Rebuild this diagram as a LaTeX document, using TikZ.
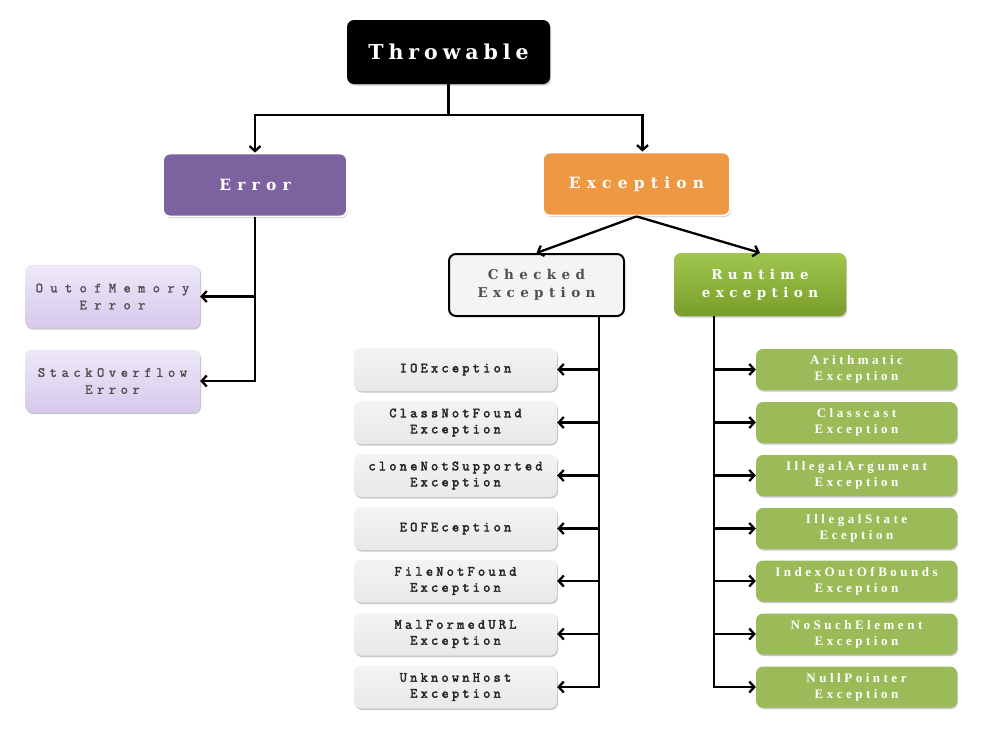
\documentclass[tikz,border=0pt]{standalone}
\usepackage{fontspec}
\usetikzlibrary{arrows.meta,shadows,calc}
\newfontfamily\ttlA[LetterSpace=24]{DejaVu Serif}
\newfontfamily\ttlB[LetterSpace=40]{DejaVu Serif}
\newfontfamily\monoA[LetterSpace=23,FakeBold=2.8]{Latin Modern Mono}
\newfontfamily\monoB[LetterSpace=53,FakeBold=1.8]{Latin Modern Mono}
\newfontfamily\monoC[LetterSpace=33,FakeBold=1.8]{Latin Modern Mono}
\newfontfamily\grn[LetterSpace=27]{Liberation Serif}
\definecolor{errpurple}{HTML}{7D62A0}
\definecolor{excorange}{HTML}{EE9843}
\definecolor{lpTop}{HTML}{EEE8F8}
\definecolor{lpBot}{HTML}{D6C9ED}
\definecolor{gTop}{HTML}{F4F4F4}
\definecolor{gBot}{HTML}{E8E8E8}
\definecolor{rtTop}{HTML}{A0C64E}
\definecolor{rtBot}{HTML}{789E2A}
\definecolor{leaf}{HTML}{9BBB59}
\definecolor{txtgrey}{HTML}{505050}
\tikzset{
  x=1pt, y=-1pt,
  base/.style={rounded corners=7pt, align=center, inner sep=0pt},
  shad/.style={drop shadow={shadow xshift=1pt, shadow yshift=-1.5pt, opacity=0.22, fill=black}},
  topbox/.style={base, fill=black, text=white, minimum width=203pt, minimum height=64pt,
    font=\ttlA\bfseries\fontsize{20.5}{24}\selectfont, shad},
  midbox/.style={base, draw=white, line width=1.8pt, text=white, minimum height=63pt,
    font=\ttlB\bfseries\fontsize{15.5}{18}\selectfont, shad},
  errleaf/.style={base, top color=lpTop, bottom color=lpBot, text=txtgrey, minimum width=175pt,
    minimum height=63pt, font=\monoB\fontsize{14}{17}\selectfont, shad},
  chkbox/.style={base, fill=gTop, draw=black, line width=2pt, text=txtgrey, minimum width=175pt,
    minimum height=62pt, font=\ttlB\bfseries\fontsize{13.5}{18}\selectfont},
  rtbox/.style={base, top color=rtTop, bottom color=rtBot, text=white, minimum width=172pt,
    minimum height=63pt, font=\ttlB\bfseries\fontsize{13.5}{18}\selectfont, shad},
  greyleaf/.style={base, top color=gTop, bottom color=gBot, text=black!85, minimum width=203pt,
    minimum height=43pt, font=\monoA\fontsize{14}{16}\selectfont, shad},
  greenleaf/.style={base, fill=leaf, text=white, minimum width=201pt, minimum height=41pt,
    font=\grn\bfseries\fontsize{13}{16}\selectfont, shad},
  conn/.style={line width=2.3pt, draw=black},
  arr/.style={conn, -{Straight Barb[length=5pt,width=11pt]}},
}
\begin{document}
\begin{tikzpicture}
\useasboundingbox (0,0) rectangle (990,729);
\fill[white] (0,0) rectangle (990,729);

\node[topbox] (thr) at (448.5,52) {Throwable};
\node[midbox, fill=errpurple, minimum width=184pt] (err) at (255,185) {Error};
\node[midbox, fill=excorange, minimum width=187pt] (exc) at (636.5,184) {Exception};

\node[errleaf] (om) at (112.5,296.5) {OutofMemory\\Error};
\node[errleaf, font=\monoC\fontsize{14}{17}\selectfont] (so) at (112.5,381) {StackOverflow\\Error};

\node[chkbox] (chk) at (536.5,285) {Checked\\Exception};
\node[rtbox] (rte) at (760,284.5) {Runtime\\exception};

\node[greyleaf] (io) at (455.5,369.5) {IOException};
\node[greyleaf] (cnf) at (455.5,422.5) {ClassNotFound\\Exception};
\node[greyleaf] (cns) at (455.5,475.5) {cloneNotSupported\\Exception};
\node[greyleaf] (eof) at (455.5,528.5) {EOFEception};
\node[greyleaf] (fnf) at (455.5,581) {FileNotFound\\Exception};
\node[greyleaf] (mal) at (455.5,634) {MalFormedURL\\Exception};
\node[greyleaf] (unk) at (455.5,687) {UnknownHost\\Exception};

\node[greenleaf] (ari) at (856.5,369.5) {Arithmatic\\Exception};
\node[greenleaf] (ccs) at (856.5,422.5) {Classcast\\Exception};
\node[greenleaf] (ila) at (856.5,475.5) {IllegalArgument\\Exception};
\node[greenleaf] (ils) at (856.5,528.5) {IllegalState\\Eception};
\node[greenleaf] (iob) at (856.5,581) {IndexOutOfBounds\\Exception};
\node[greenleaf] (nse) at (856.5,634) {NoSuchElement\\Exception};
\node[greenleaf] (npe) at (856.5,687) {NullPointer\\Exception};

% Throwable -> Error / Exception
\coordinate (tj) at ($(thr.south)+(0,31)$);
\draw[conn] (thr.south) -- (tj);
\draw[arr] (tj) -| (err.north);
\draw[arr] (tj) -| ([xshift=6pt]exc.north);

% Error -> leaves
\draw[arr] (err.south) |- (so.east);
\draw[arr] (err.south |- om.east) -- (om.east);

% Exception -> Checked / Runtime
\draw[arr] (exc.south) -- (chk.north);
\draw[arr] (exc.south) -- (rte.north);

% Checked -> leaves
\coordinate (ct) at ($(chk.south east)+(-26,0)$);
\draw[arr] (ct) |- (unk.east);
\foreach \n in {io,cnf,cns,eof,fnf,mal} {
  \draw[arr] (ct |- \n.east) -- (\n.east);
}

% Runtime -> leaves
\coordinate (rt) at ($(rte.south west)+(40,0)$);
\draw[arr] (rt) |- (npe.west);
\foreach \n in {ari,ccs,ila,ils,iob,nse} {
  \draw[arr] (rt |- \n.west) -- (\n.west);
}
\end{tikzpicture}
\end{document}
